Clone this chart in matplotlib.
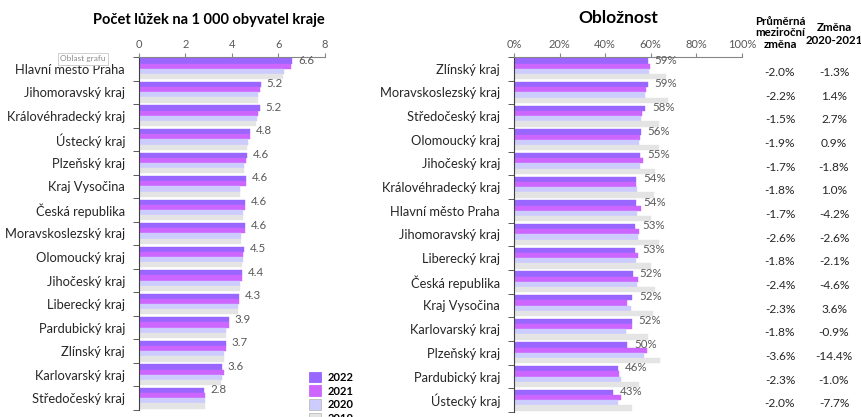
import matplotlib
matplotlib.use("Agg")
import matplotlib.pyplot as plt
import matplotlib.transforms as mtransforms
from matplotlib.patches import Patch
import numpy as np

plt.rcParams['font.family'] = ['Lato', 'DejaVu Sans']

# ---------------- data ----------------
years = ["2022", "2021", "2020", "2019"]
colors = ["#9966FF", "#CC66FF", "#CCCCFF", "#E4E4E4"]

beds_regions = ["Hlavní město Praha", "Jihomoravský kraj", "Královéhradecký kraj",
                "Ústecký kraj", "Plzeňský kraj", "Kraj Vysočina", "Česká republika",
                "Moravskoslezský kraj", "Olomoucký kraj", "Jihočeský kraj",
                "Liberecký kraj", "Pardubický kraj", "Zlínský kraj",
                "Karlovarský kraj", "Středočeský kraj"]
beds_2022 = [6.59, 5.24, 5.19, 4.77, 4.64, 4.60, 4.57, 4.57, 4.51, 4.44, 4.31, 3.87, 3.74, 3.57, 2.81]
beds_2021 = [6.53, 5.21, 5.11, 4.77, 4.61, 4.60, 4.57, 4.57, 4.47, 4.43, 4.31, 3.87, 3.74, 3.67, 2.83]
beds_2020 = [6.24, 5.11, 5.07, 4.69, 4.50, 4.36, 4.47, 4.39, 4.47, 4.36, 4.26, 3.76, 3.64, 3.57, 2.83]
beds_2019 = [6.21, 5.11, 5.04, 4.66, 4.50, 4.36, 4.47, 4.39, 4.43, 4.34, 4.26, 3.76, 3.64, 3.53, 2.83]

occ_regions = ["Zlínský kraj", "Moravskoslezský kraj", "Středočeský kraj",
               "Olomoucký kraj", "Jihočeský kraj", "Královéhradecký kraj",
               "Hlavní město Praha", "Jihomoravský kraj", "Liberecký kraj",
               "Česká republika", "Kraj Vysočina", "Karlovarský kraj",
               "Plzeňský kraj", "Pardubický kraj", "Ústecký kraj"]
occ_2022 = [58.6, 58.6, 57.6, 55.7, 55.4, 53.7, 53.6, 53.2, 53.2, 52.0, 51.8, 51.6, 49.7, 45.6, 43.3]
occ_2021 = [59.5, 58.0, 56.0, 55.4, 56.4, 53.4, 55.6, 54.8, 54.4, 54.4, 49.7, 51.8, 58.3, 46.2, 46.8]
occ_2020 = [59.4, 57.5, 55.7, 54.8, 55.3, 53.9, 54.1, 54.4, 53.5, 53.9, 51.3, 49.3, 57.0, 46.9, 45.6]
occ_2019 = [66.7, 67.5, 63.7, 63.7, 62.0, 61.5, 60.1, 63.7, 60.2, 61.8, 60.8, 58.9, 64.0, 54.8, 51.6]

avg_change = ["-2.0%", "-2.2%", "-1.5%", "-1.9%", "-1.7%", "-1.8%", "-1.7%", "-2.6%",
              "-1.8%", "-2.4%", "-2.3%", "-1.8%", "-3.6%", "-2.3%", "-2.0%"]
change_2021 = ["-1.3%", "1.4%", "2.7%", "0.9%", "-1.8%", "1.0%", "-4.2%", "-2.6%",
               "-2.1%", "-4.6%", "3.6%", "-0.9%", "-14.4%", "-1.0%", "-7.7%"]

# ---------------- figure ----------------
fig = plt.figure(figsize=(8.62, 4.17), dpi=100)
W, H = 862, 417

def ax_rect(x0, x1, ytop, ybot):
    return [x0 / W, 1 - ybot / H, (x1 - x0) / W, (ybot - ytop) / H]

ax1 = fig.add_axes(ax_rect(139, 325, 57, 410))
ax2 = fig.add_axes(ax_rect(514, 742, 57, 412))

TXT = "#262626"
GRAY = "#595959"
bh = 0.22
offs = [-0.33, -0.11, 0.11, 0.33]

def draw(ax, cats, series, xlim, xticks, xticklabels, labels, lab_off):
    y = np.arange(len(cats))
    for s, c, o in zip(series, colors, offs):
        ax.barh(y + o, s, height=bh, color=c, edgecolor=c, linewidth=0.3)
    ax.set_ylim(len(cats) - 0.5, -0.5)
    ax.set_xlim(*xlim)
    ax.xaxis.tick_top()
    ax.set_xticks(xticks)
    ax.set_xticklabels(xticklabels, fontsize=8, color=GRAY)
    ax.tick_params(axis='x', length=3, color="#868686", pad=2)
    ax.set_yticks(y)
    ax.set_yticklabels(cats, fontsize=9.3, color=TXT)
    ax.tick_params(axis='y', which='major', length=0, pad=10)
    ax.set_yticks(np.arange(len(cats) + 1) - 0.5, minor=True)
    ax.tick_params(axis='y', which='minor', length=4, color="#404040")
    for sp in ["right", "bottom"]:
        ax.spines[sp].set_visible(False)
    ax.spines["left"].set_color("#404040")
    ax.spines["top"].set_color("#868686")
    for yi, (v, t) in enumerate(zip(series[0], labels)):
        ax.text(v + lab_off, yi - 0.36, t, fontsize=8.3, color=GRAY,
                va="center", ha="left")

draw(ax1, beds_regions, [beds_2022, beds_2021, beds_2020, beds_2019],
     (0, 8), [0, 2, 4, 6, 8], ["0", "2", "4", "6", "8"],
     ["%.1f" % v for v in beds_2022], 0.25)
draw(ax2, occ_regions, [occ_2022, occ_2021, occ_2020, occ_2019],
     (0, 100), [0, 20, 40, 60, 80, 100], ["0%", "20%", "40%", "60%", "80%", "100%"],
     ["%.0f%%" % v for v in occ_2022], 3)

fig.text(209 / W, 1 - 20 / H, "Počet lůžek na 1 000 obyvatel kraje",
         ha="center", va="center", fontsize=10.5, fontweight="bold", color="#000000")
fig.text(618 / W, 1 - 18 / H, "Obložnost", ha="center", va="center",
         fontsize=12.5, fontweight="bold", color="#000000")

# tooltip artifact
fig.text(83 / W, 1 - 59 / H, "Oblast grafu", ha="center", va="center",
         fontsize=6, color="#8c8c8c",
         bbox=dict(boxstyle="square,pad=0.25", fc="white", ec="#c8c8c8", lw=0.6))

# table columns
fig.text(780 / W, 1 - 33 / H, "Průměrná\nmeziroční\nzměna", ha="center", va="center",
         fontsize=8.3, fontweight="bold", color="#000000", linespacing=1.05)
fig.text(834 / W, 1 - 34 / H, "Změna\n2020-2021", ha="center", va="center",
         fontsize=8.3, fontweight="bold", color="#000000", linespacing=1.15)
tr = mtransforms.blended_transform_factory(fig.transFigure, ax2.transData)
for i, (a, b) in enumerate(zip(avg_change, change_2021)):
    ax2.text(780 / W, i + 0.15, a, transform=tr, ha="center", va="center",
             fontsize=8.6, color=TXT, clip_on=False)
    ax2.text(834 / W, i + 0.15, b, transform=tr, ha="center", va="center",
             fontsize=8.6, color=TXT, clip_on=False)

# legend
handles = [Patch(facecolor=c, edgecolor=("#bdbdbd" if i >= 2 else c), linewidth=0.6)
           for i, c in enumerate(colors)]
leg = fig.legend(handles, years, loc="upper left",
                 bbox_to_anchor=(303 / W, 1 - 366 / H), frameon=False,
                 fontsize=8, handlelength=1.1, handleheight=1.1,
                 labelspacing=0.25, handletextpad=0.6, borderpad=0)
for t in leg.get_texts():
    t.set_fontweight("bold")

fig.savefig("out.png", dpi=100)
